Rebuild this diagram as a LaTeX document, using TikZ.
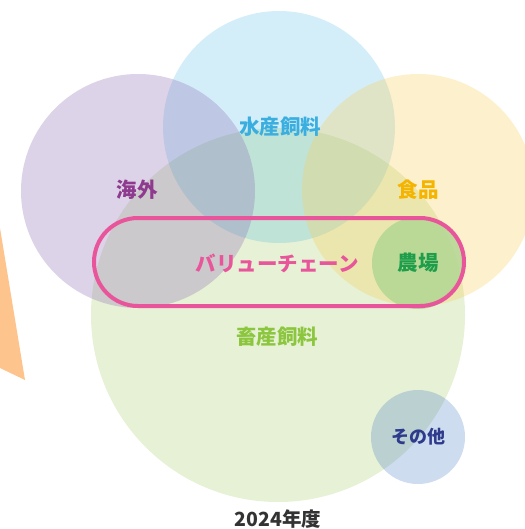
\documentclass[tikz,border=0pt]{standalone}
\usepackage{fontspec}
\newfontfamily\jp{Noto Sans CJK JP}
\definecolor{cblue}{HTML}{29ABE2}
\definecolor{cpurple}{HTML}{8E6CB2}
\definecolor{cyellow}{HTML}{F8CD55}
\definecolor{cgreen}{HTML}{ACD076}
\definecolor{cfarm}{HTML}{B2D693}
\definecolor{cother}{HTML}{588AC6}
\definecolor{corange}{HTML}{FDC48E}
\definecolor{tblue}{HTML}{3AAEDF}
\definecolor{tpurple}{HTML}{8E3A8E}
\definecolor{tyellow}{HTML}{F5B400}
\definecolor{tpink}{HTML}{E8559A}
\definecolor{tfarm}{HTML}{1E9E4A}
\definecolor{tgreen}{HTML}{8CC63F}
\definecolor{tnavy}{HTML}{2E3A8C}
\definecolor{tdark}{HTML}{333333}
\tikzset{
  lbl/.style={font=\jp\bfseries\fontsize{20.5}{24}\selectfont, inner sep=0pt},
  small/.style={font=\jp\bfseries\fontsize{18}{21}\selectfont},
  bubble/.style={fill opacity=0.3}
}
\begin{document}
\begin{tikzpicture}[x=1pt,y=-1pt]
\useasboundingbox (0,0) rectangle (524,529);
% orange shape at left
\fill[corange] (0,228) -- (25,380) -- (0,368) -- cycle;
% circles
\fill[cgreen, bubble] (278,315) circle (187);
\fill[cblue, fill opacity=0.2] (279,127) circle (116);
\fill[cpurple, bubble] (138,191) circle (117);
\fill[cyellow, bubble] (418,190) circle (116);
\fill[cfarm, fill opacity=0.85] (418,263) circle (46);
\fill[cother, bubble] (418,437) circle (47);
% value chain
\node[draw=tpink, line width=4pt, rounded corners=44pt, minimum width=370pt, minimum height=88pt] (vcbox) at (279,262) {};
% labels
\node[lbl, text=tblue] (suisan) at (280,127) {水産飼料};
\node[lbl, text=tpurple] (kaigai) at (137,190) {海外};
\node[lbl, text=tyellow] (shokuhin) at (418,190) {食品};
\node[lbl, text=tpink] (vc) at (277,263) {バリューチェーン};
\node[lbl, text=tfarm] (nojo) at (418,263) {農場};
\node[lbl, text=tgreen] (chikusan) at (277,337) {畜産飼料};
\node[lbl, small, text=tnavy] (sonota) at (418,437) {その他};
\node[lbl, small, text=tdark, font=\jp\bfseries\fontsize{19.5}{22}\selectfont] (year) at (278,519) {2024年度};
\end{tikzpicture}
\end{document}
